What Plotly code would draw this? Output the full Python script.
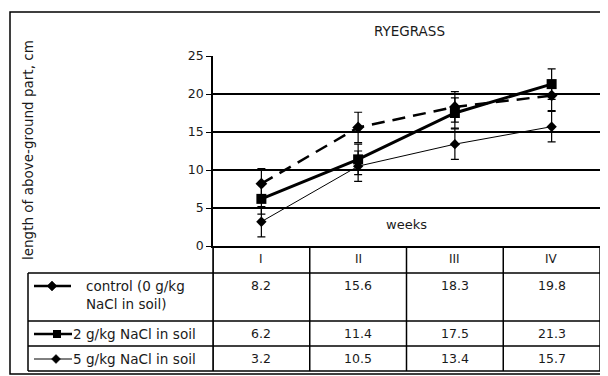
import plotly.graph_objects as go

# ---------------- data ----------------
weeks = ["I", "II", "III", "IV"]
series_names = ["control (0 g/kg<br>NaCl in soil)", "2 g/kg NaCl in soil", "5 g/kg NaCl in soil"]
control = [8.2, 15.6, 18.3, 19.8]
nacl_2 = [6.2, 11.4, 17.5, 21.3]
nacl_5 = [3.2, 10.5, 13.4, 15.7]
err_control = [2.0, 2.0, 2.0, 2.0]
err_2 = [2.0, 2.0, 2.0, 2.0]
err_5 = [2.0, 2.0, 2.0, 2.0]
y_ticks = [0, 5, 10, 15, 20, 25]

# ---------------- layout helpers (window pixel coordinates) ----------------
WIN_W, WIN_H = 608, 376
OFF = 8  # page body margin
L, R, T, B = 213, 600, 56, 246
FONT = "DejaVu Sans, Verdana, sans-serif"
INK = "#1a1a1a"


def px(x):
    return (x - L) / (R - L)


def py(y):
    return (B - y) / (B - T)


xpos = list(range(1, len(weeks) + 1))

fig = go.Figure()


def add_series(vals, errs, dash, width, symbol, msize):
    fig.add_trace(go.Scatter(
        x=xpos, y=vals, mode="lines+markers",
        line=dict(color="black", width=width, dash=dash),
        marker=dict(symbol=symbol, size=msize, color="black"),
        error_y=dict(type="data", array=errs, visible=True, color="black",
                     thickness=1.2, width=4),
        showlegend=False, cliponaxis=False,
    ))


add_series(nacl_5, err_5, "solid", 1, "diamond", 8)
add_series(control, err_control, "13px,8px", 2.5, "diamond", 9)
add_series(nacl_2, err_2, "solid", 3, "square", 10)

shapes = []
ann = []


def text(x, y, s, size=12.5, xref="paper", xanchor="center", yanchor="middle", **kw):
    ann.append(dict(x=x, y=y, xref=xref, yref="paper", text=s, showarrow=False,
                    xanchor=xanchor, yanchor=yanchor,
                    font=dict(size=size, color=INK, family=FONT), **kw))


# outer frame
shapes.append(dict(type="rect", xref="paper", yref="paper",
                   x0=px(10), x1=px(612), y0=py(12), y1=py(374),
                   line=dict(color="black", width=1.5)))

# table geometry
row_lines = [273, 321, 346, 371]
for yl in row_lines:
    shapes.append(dict(type="line", xref="paper", yref="paper",
                       x0=px(28), x1=px(R), y0=py(yl), y1=py(yl),
                       line=dict(color="black", width=1.5)))
for b in [xpos[0] - 0.5] + [p + 0.5 for p in xpos]:
    shapes.append(dict(type="line", xref="x", yref="paper",
                       x0=b, x1=b, y0=py(B), y1=py(371),
                       line=dict(color="black", width=1.5)))
shapes.append(dict(type="line", xref="paper", yref="paper",
                   x0=px(28), x1=px(28), y0=py(273), y1=py(371),
                   line=dict(color="black", width=1.5)))

# header labels
for p, w in zip(xpos, weeks):
    text(p, py(259), w, size=12, xref="x")

# values in table
row_centers = [285, 333, 358]
for rc, vals in zip(row_centers, [control, nacl_2, nacl_5]):
    for p, v in zip(xpos, vals):
        text(p, py(rc), f"{v:.1f}", size=12.5, xref="x")

# legend labels
text(px(84), py(276), series_names[0], size=13.5, xanchor="left", yanchor="top", align="left")
text(px(71), py(334), series_names[1], size=13.6, xanchor="left")
text(px(71), py(359), series_names[2], size=13.6, xanchor="left")


def diamond(cx, cy, r):
    return (f"M {px(cx - r)},{py(cy)} L {px(cx)},{py(cy - r)} "
            f"L {px(cx + r)},{py(cy)} L {px(cx)},{py(cy + r)} Z")


shapes.append(dict(type="line", xref="paper", yref="paper", x0=px(34), x1=px(71),
                   y0=py(286), y1=py(286), line=dict(color="black", width=2.5)))
shapes.append(dict(type="path", xref="paper", yref="paper", path=diamond(52, 286, 5),
                   fillcolor="black", line=dict(color="black", width=0.5)))
shapes.append(dict(type="line", xref="paper", yref="paper", x0=px(34), x1=px(72),
                   y0=py(334), y1=py(334), line=dict(color="black", width=2.5)))
shapes.append(dict(type="rect", xref="paper", yref="paper", x0=px(53), x1=px(61),
                   y0=py(330), y1=py(338), fillcolor="black", line=dict(color="black", width=0)))
shapes.append(dict(type="line", xref="paper", yref="paper", x0=px(34), x1=px(72),
                   y0=py(359), y1=py(359), line=dict(color="black", width=1)))
shapes.append(dict(type="path", xref="paper", yref="paper", path=diamond(56, 359, 4.5),
                   fillcolor="black", line=dict(color="black", width=0.5)))

# y-axis extension through table header
shapes.append(dict(type="line", xref="paper", yref="paper", x0=0, x1=0,
                   y0=py(B), y1=py(371), line=dict(color="black", width=1.5)))

# titles
text(px(409), py(31), "RYEGRASS", size=13.5)
text(2.5, py(224), "weeks", size=13, xref="x")
text(px(28), py(150), "length of above-ground part, cm", size=13.5, textangle=-90)

fig.update_layout(
    width=WIN_W - OFF, height=WIN_H - OFF,
    margin=dict(l=L - OFF, r=WIN_W - R, t=T - OFF, b=WIN_H - B, pad=0),
    paper_bgcolor="white", plot_bgcolor="white",
    font=dict(family=FONT, size=12, color=INK),
    xaxis=dict(range=[0.5, len(weeks) + 0.5], showgrid=False, zeroline=False,
               showticklabels=False, ticks="", showline=True, linecolor="black",
               linewidth=1.5, fixedrange=True),
    yaxis=dict(range=[0, 25], tickvals=y_ticks, showgrid=True, gridcolor="black",
               gridwidth=1.5, zeroline=False, showline=True, linecolor="black",
               linewidth=1.5, ticks="outside", ticklen=5, tickcolor="black",
               tickfont=dict(size=12.5, color=INK, family=FONT), fixedrange=True),
    shapes=shapes, annotations=ann, showlegend=False,
)

fig.write_html("out.html")
